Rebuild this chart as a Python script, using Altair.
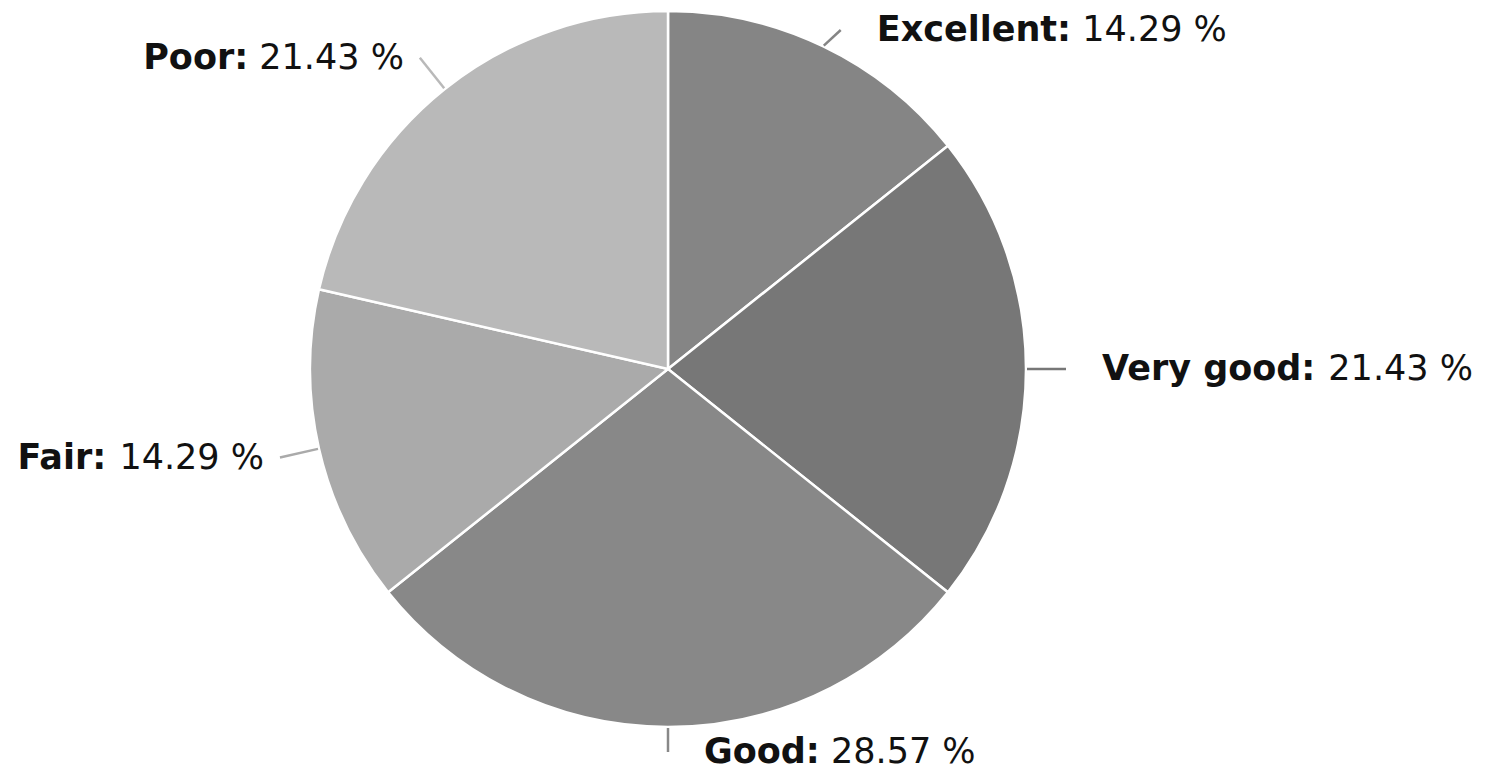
import altair as alt
import pandas as pd

# Survey ratings, in clockwise order from twelve o'clock
categories = ["Excellent", "Very good", "Good", "Fair", "Poor"]
shares = [14.29, 21.43, 28.57, 14.29, 21.43]
slice_colors = ["#858585", "#777777", "#888888", "#aaaaaa", "#b9b9b9"]

FONT = "DejaVu Sans"
FONT_SIZE = 35

# Advance widths (in em) of the glyphs used, so the bold name and the
# regular value can sit side by side on one line.
BOLD_EM = {" ": 0.348, ":": 0.400, "a": 0.675, "c": 0.593, "d": 0.716,
           "e": 0.678, "g": 0.716, "i": 0.343, "l": 0.343, "n": 0.712,
           "o": 0.687, "r": 0.493, "t": 0.478, "x": 0.646, "y": 0.650,
           "E": 0.683, "F": 0.683, "G": 0.821, "P": 0.733, "V": 0.774}
REG_EM = {" ": 0.318, ".": 0.318, ":": 0.337, "%": 0.950,
          **{d: 0.636 for d in "0123456789"}}


def text_width(s, table):
    return sum(table.get(ch, 0.62) for ch in s) * FONT_SIZE


name_labels = [f"{c}:" for c in categories]
value_labels = [f"{v:.2f} %" for v in shares]

df = pd.DataFrame({
    "category": categories,
    "share": shares,
    "order": list(range(len(categories))),
    "name_label": name_labels,
    "value_label": value_labels,
    "name_w": [text_width(n, BOLD_EM) for n in name_labels],
    "value_w": [text_width(v, REG_EM) for v in value_labels],
})

# Layout (pixels)
W, H = 1336, 738           # plot area; pie centred in it
R = 358                    # pie radius
D = R + 40                 # label anchor distance from centre
TOP, BOTTOM = H / 2 - 30, -(H / 2 + 14)   # keep label lines on the canvas
GAP_R, GAP_L = 36, 16
SPACE_W = REG_EM[" "] * FONT_SIZE

xs = alt.Scale(domain=[-W / 2, W / 2], nice=False, zero=False)
ys = alt.Scale(domain=[-H / 2, H / 2], nice=False, zero=False)
color = alt.Color("category:N", scale=alt.Scale(domain=categories, range=slice_colors), legend=None)

base = (
    alt.Chart(df)
    .transform_joinaggregate(total="sum(share)")
    .transform_window(cum="sum(share)", sort=[alt.SortField("order")], frame=[None, 0])
    .transform_calculate(t="2 * PI * (datum.cum - datum.share / 2) / datum.total")
    .transform_calculate(ex=f"{R + 1} * sin(datum.t)")
    .transform_calculate(ey=f"{R + 1} * cos(datum.t)")
    .transform_calculate(ax=f"{D} * sin(datum.t)")
    .transform_calculate(ay=f"clamp({D} * cos(datum.t), {BOTTOM}, {TOP})")
    .transform_calculate(right="sin(datum.t) > -0.01")
    .transform_calculate(
        name_x=f"datum.right ? datum.ax + {GAP_R} : "
               f"datum.ax - {GAP_L} - datum.value_w - {SPACE_W} - datum.name_w"
    )
    .transform_calculate(value_x=f"datum.name_x + datum.name_w + {SPACE_W}")
)

pie = base.mark_arc(outerRadius=R, stroke="white", strokeWidth=2.5).encode(
    theta=alt.Theta("share:Q", stack=True),
    order=alt.Order("order:Q"),
    color=color,
)

connectors = base.mark_rule(strokeWidth=2.5).encode(
    x=alt.X("ex:Q", scale=xs, axis=None),
    y=alt.Y("ey:Q", scale=ys, axis=None),
    x2="ax:Q",
    y2="ay:Q",
    color=color,
)

names = base.mark_text(
    align="left", baseline="middle", font=FONT, fontSize=FONT_SIZE,
    fontWeight="bold", color="#111111",
).encode(
    x=alt.X("name_x:Q", scale=xs, axis=None),
    y=alt.Y("ay:Q", scale=ys, axis=None),
    text="name_label:N",
)

values = base.mark_text(
    align="left", baseline="middle", font=FONT, fontSize=FONT_SIZE,
    color="#111111",
).encode(
    x=alt.X("value_x:Q", scale=xs, axis=None),
    y=alt.Y("ay:Q", scale=ys, axis=None),
    text="value_label:N",
)

chart = (
    alt.layer(pie, connectors, names, values)
    .properties(width=W, height=H, padding=0, background="white")
    .configure_view(stroke=None)
)

chart.save("out.html", embed_options={"renderer": "svg", "actions": False})
